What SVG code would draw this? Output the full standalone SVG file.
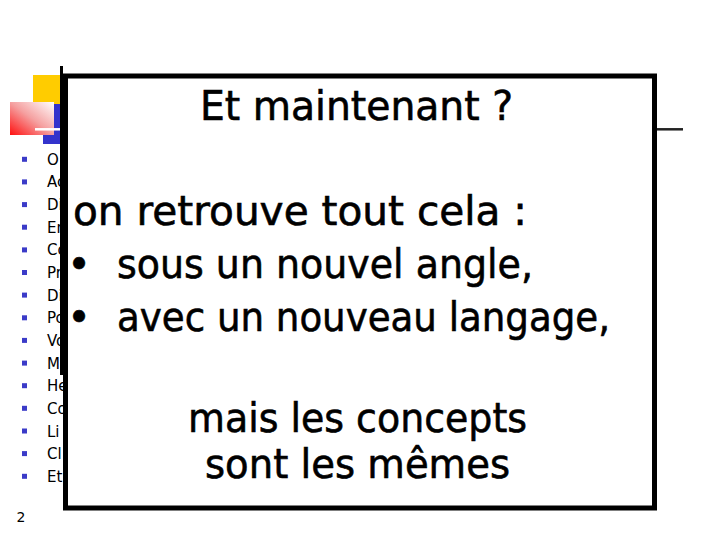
<svg xmlns="http://www.w3.org/2000/svg" width="720" height="540" viewBox="0 0 720 540">
  <defs>
    <linearGradient id="pinkGrad" x1="0" y1="1" x2="1" y2="0">
      <stop offset="0" stop-color="#ff1010"/>
      <stop offset="0.5" stop-color="#f5a0a0"/>
      <stop offset="1" stop-color="#ffffff"/>
    </linearGradient>
    <style>
      .item { font-family: "DejaVu Sans", "Liberation Sans", sans-serif; font-size: 15px; fill: #000; }
      .sq { fill: #3b3bc8; }
      .big { font-family: "DejaVu Sans", "Liberation Sans", sans-serif; font-size: 40px; fill: #000; stroke: #000; stroke-width: 0.6px; }
    </style>
  </defs>
  <rect width="720" height="540" fill="#ffffff"/>

  <g id="logo">
    <rect x="33" y="75" width="29" height="29" fill="#ffcc00"/>
    <rect x="43" y="104" width="19" height="40" fill="#3333cc"/>
    <rect x="10" y="102" width="44" height="33" fill="url(#pinkGrad)"/>
    <line x1="35" y1="129.3" x2="63" y2="129.3" stroke="#ffffff" stroke-width="2.5"/>
    <line x1="61.5" y1="66" x2="61.5" y2="375" stroke="#000000" stroke-width="3"/>
    <line x1="657" y1="129.3" x2="683" y2="129.3" stroke="#222222" stroke-width="2.5"/>
  </g>

  <g id="sidebar-list">
    <rect class="sq" x="22" y="156.8" width="5" height="5"/><text class="item" x="47" y="164.8">O</text>
    <rect class="sq" x="22" y="179.4" width="5" height="5"/><text class="item" x="47" y="187.4">Ac</text>
    <rect class="sq" x="22" y="202.1" width="5" height="5"/><text class="item" x="47" y="210.1">Di</text>
    <rect class="sq" x="22" y="224.7" width="5" height="5"/><text class="item" x="47" y="232.7">En</text>
    <rect class="sq" x="22" y="247.4" width="5" height="5"/><text class="item" x="47" y="255.4">Co</text>
    <rect class="sq" x="22" y="270.0" width="5" height="5"/><text class="item" x="47" y="278.0">Pr</text>
    <rect class="sq" x="22" y="292.6" width="5" height="5"/><text class="item" x="47" y="300.6">Di</text>
    <rect class="sq" x="22" y="315.3" width="5" height="5"/><text class="item" x="47" y="323.3">Po</text>
    <rect class="sq" x="22" y="337.9" width="5" height="5"/><text class="item" x="47" y="345.9">Vo</text>
    <rect class="sq" x="22" y="360.6" width="5" height="5"/><text class="item" x="47" y="368.6">M</text>
    <rect class="sq" x="22" y="383.2" width="5" height="5"/><text class="item" x="47" y="391.2">He</text>
    <rect class="sq" x="22" y="405.8" width="5" height="5"/><text class="item" x="47" y="413.8">Co</text>
    <rect class="sq" x="22" y="428.5" width="5" height="5"/><text class="item" x="47" y="436.5">Li</text>
    <rect class="sq" x="22" y="451.1" width="5" height="5"/><text class="item" x="47" y="459.1">Cl</text>
    <rect class="sq" x="22" y="473.8" width="5" height="5"/><text class="item" x="47" y="481.8">Et</text>
    <text id="page-number" x="16.5" y="522" font-family="DejaVu Sans, sans-serif" font-size="14" fill="#000">2</text>
  </g>

  <g id="callout">
    <rect x="65.5" y="76" width="589" height="432" fill="#ffffff" stroke="#000000" stroke-width="5"/>
    <text class="big" x="200" y="120" textLength="313" lengthAdjust="spacingAndGlyphs">Et maintenant ?</text>
    <text class="big" x="73" y="225" textLength="454" lengthAdjust="spacingAndGlyphs">on retrouve tout cela :</text>
    <text class="big" x="79" y="278" text-anchor="middle">•</text>
    <text class="big" x="117" y="278" textLength="416" lengthAdjust="spacingAndGlyphs">sous un nouvel angle,</text>
    <text class="big" x="79" y="331" text-anchor="middle">•</text>
    <text class="big" x="117" y="331" textLength="493" lengthAdjust="spacingAndGlyphs">avec un nouveau langage,</text>
    <text class="big" x="188" y="431.5" textLength="339" lengthAdjust="spacingAndGlyphs">mais les concepts</text>
    <text class="big" x="205" y="478" textLength="305" lengthAdjust="spacingAndGlyphs">sont les mêmes</text>
  </g>
</svg>
